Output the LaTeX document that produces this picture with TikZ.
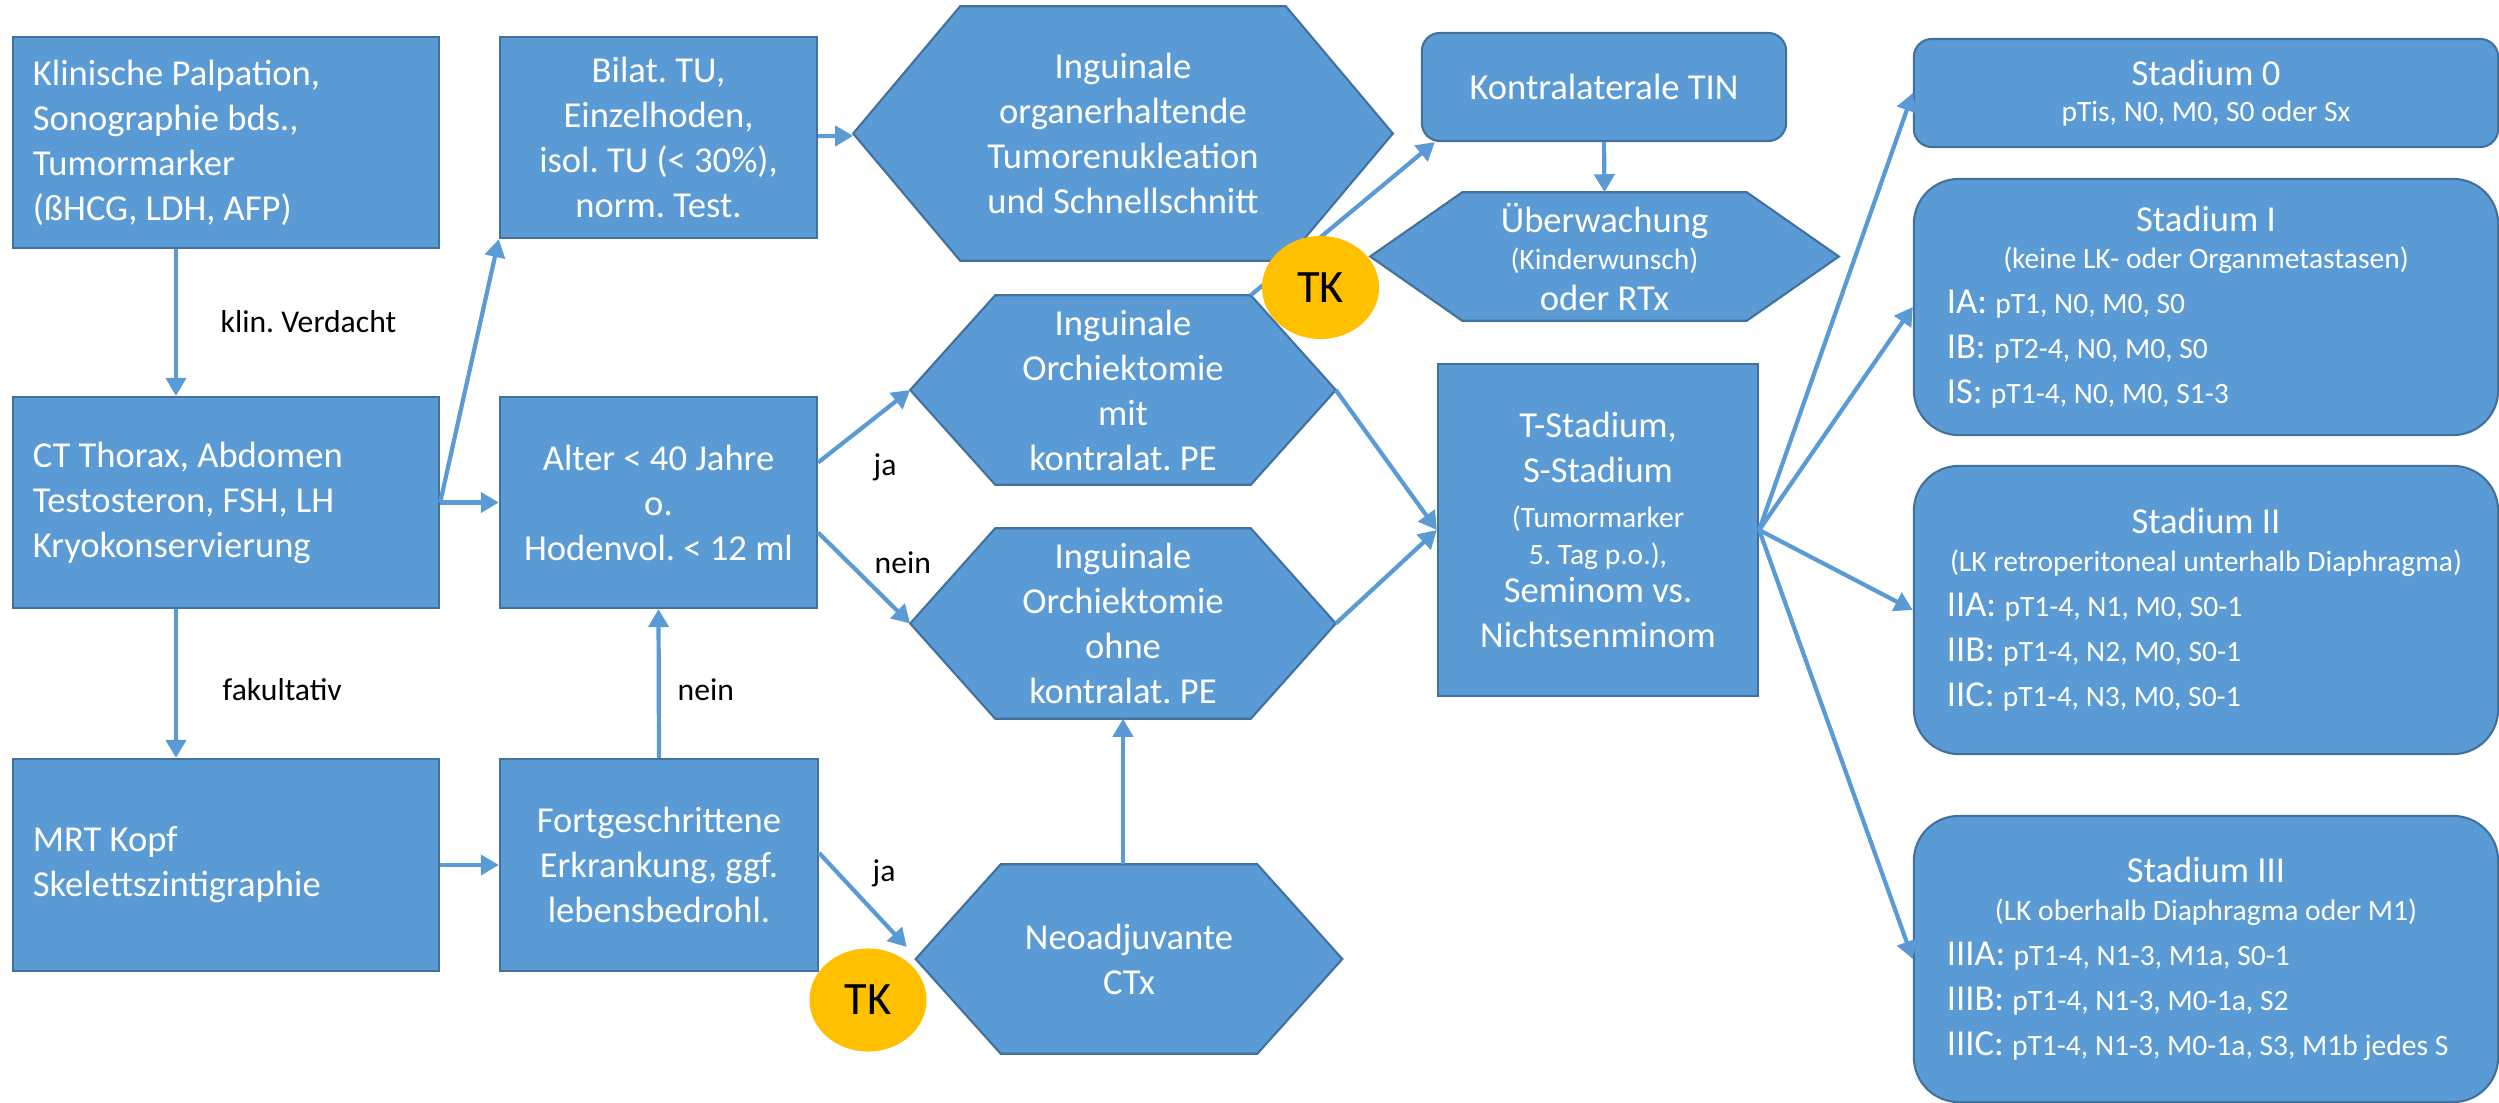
\documentclass[tikz,border=0pt]{standalone}
\usepackage{fontspec}
\setmainfont{Carlito}
\usetikzlibrary{arrows.meta,shapes.geometric,backgrounds}
\definecolor{boxFill}{HTML}{5B9BD5}
\definecolor{boxLine}{HTML}{41719C}
\definecolor{tkGold}{HTML}{FFC000}
\frenchspacing
\newcommand{\bigText}{\fontsize{10.4}{12.8}\selectfont}
\newcommand{\smallText}{\fontsize{8.4}{10}\selectfont}
\newcommand{\labelText}{\fontsize{9}{11}\selectfont}
\newcommand{\hexNode}[7]{%
  \node[hexText, minimum width=#4, minimum height=#5] (#1) at (#2,#3) {#7};
  \begin{pgfonlayer}{background}
    \draw[draw=boxLine, fill=boxFill, line width=0.6pt]
      (#1.west) -- ([xshift=#6]#1.north west) -- ([xshift=-#6]#1.north east)
      -- (#1.east) -- ([xshift=-#6]#1.south east) -- ([xshift=#6]#1.south west) -- cycle;
  \end{pgfonlayer}}

\tikzset{
  plainSpace/.style={execute at begin node={\frenchspacing\spaceskip=0pt\xspaceskip=0pt}},
  procBox/.style={rectangle, draw=boxLine, fill=boxFill, line width=0.6pt,
    text=white, font=\bigText, inner sep=0pt, plainSpace},
  leftBox/.style={procBox, text width=3.86cm, align=left, inner xsep=0.2cm,
    minimum width=4.26cm},
  midBox/.style={procBox, align=center, minimum width=3.17cm},
  hexText/.style={rectangle, text=white, font=\bigText, align=center, inner sep=0pt,
    plainSpace},
  stageBox/.style={procBox, rounded corners=0.45cm, text width=5.18cm, align=left,
    inner xsep=0.33cm, minimum width=5.84cm},
  tkMark/.style={ellipse, fill=tkGold, minimum width=1.17cm, minimum height=1.03cm,
    inner sep=0pt, font=\fontsize{13.2}{15}\selectfont},
  edgeLabel/.style={anchor=west, inner sep=0pt, font=\labelText, plainSpace},
  flowArrow/.style={draw=boxFill, line width=1.2pt,
    -{Triangle[length=0.18cm,width=0.2cm]}}
}

\begin{document}
\begin{tikzpicture}[x=0.01cm, y=-0.01cm]
\useasboundingbox (0,0) rectangle (2499,1103);

\node[leftBox, minimum height=2.11cm] (palp) at (226,142.5)
  {Klinische Palpation,\\ Sonographie bds.,\\ Tumormarker\\ (ßHCG, LDH, AFP)};
\node[leftBox, minimum height=2.11cm] (ct) at (226,502.5)
  {CT Thorax, Abdomen\\ Testosteron, FSH, LH\\ Kryokonservierung};
\node[leftBox, minimum height=2.12cm] (mrt) at (226,865)
  {MRT Kopf\\ Skelettszintigraphie};

\node[midBox, minimum height=2.01cm] (bilat) at (658.5,137.5)
  {Bilat. TU,\\ Einzelhoden,\\ isol. TU (< 30\%),\\ norm. Test.};
\node[midBox, minimum height=2.11cm] (alter) at (658.5,502.5)
  {Alter < 40 Jahre\\ o.\\ Hodenvol. < 12 ml};
\node[midBox, minimum width=3.18cm, minimum height=2.12cm] (fort) at (659,865)
  {Fortgeschrittene\\ Erkrankung, ggf.\\ lebensbedrohl.};

\hexNode{organ}{1123}{133.5}{5.38cm}{2.53cm}{1.07cm}
  {Inguinale\\ organerhaltende\\ Tumorenukleation\\ und Schnellschnitt}
\hexNode{mit}{1123}{390}{4.24cm}{1.88cm}{0.85cm}
  {Inguinale\\ Orchiektomie\\ mit\\ kontralat. PE}
\hexNode{ohne}{1123}{623.5}{4.24cm}{1.89cm}{0.85cm}
  {Inguinale\\ Orchiektomie\\ ohne\\ kontralat. PE}
\hexNode{neo}{1129}{959}{4.25cm}{1.88cm}{0.85cm}
  {Neoadjuvante\\ CTx}
\hexNode{ueber}{1604.5}{256.5}{4.67cm}{1.27cm}{0.92cm}
  {Überwachung\\[-0.08cm] {\smallText (Kinderwunsch)}\\[-0.04cm] oder RTx}

\node[procBox, rounded corners=0.18cm, minimum width=3.64cm, minimum height=1.08cm]
  (tin) at (1604,87) {Kontralaterale TIN};
\node[midBox, minimum width=3.2cm, minimum height=3.32cm] (tstad) at (1598,530)
  {T-Stadium,\\ S-Stadium\\ {\smallText (Tumormarker}\\[-0.08cm]
   {\smallText 5. Tag p.o.),}\\[-0.07cm] Seminom vs.\\ Nichtsenminom};

\node[stageBox, rounded corners=0.18cm, minimum height=1.08cm] (st0) at (2206,93)
  {{\centering Stadium 0\\[-0.09cm] {\smallText pTis, N0, M0, S0 oder Sx}\par}};
\node[stageBox, minimum height=2.56cm] (st1) at (2206,307)
  {{\centering Stadium I\\[-0.08cm] {\smallText (keine LK- oder Organmetastasen)}\par}
   IA: {\smallText pT1, N0, M0, S0}\\
   IB: {\smallText pT2-4, N0, M0, S0}\\
   IS: {\smallText pT1-4, N0, M0, S1-3}};
\node[stageBox, minimum height=2.88cm] (st2) at (2206,610)
  {{\centering Stadium II\\[-0.07cm] {\smallText (LK retroperitoneal unterhalb Diaphragma)}\par}
   IIA: {\smallText pT1-4, N1, M0, S0-1}\\
   IIB: {\smallText pT1-4, N2, M0, S0-1}\\
   IIC: {\smallText pT1-4, N3, M0, S0-1}};
\node[stageBox, minimum height=2.86cm] (st3) at (2206,959)
  {{\centering Stadium III\\[-0.07cm] {\smallText (LK oberhalb Diaphragma oder M1)}\par}
   IIIA: {\smallText pT1-4, N1-3, M1a, S0-1}\\
   IIIB: {\smallText pT1-4, N1-3, M0-1a, S2}\\
   IIIC: {\smallText pT1-4, N1-3, M0-1a, S3, M1b jedes S}};

\node[edgeLabel] (klin) at (220,322) {klin. Verdacht};
\node[edgeLabel] (fak) at (222,690) {fakultativ};
\node[edgeLabel] (neinA) at (677,690) {nein};
\node[edgeLabel] (jaA) at (873,467) {ja};
\node[edgeLabel] (neinB) at (874,563) {nein};
\node[edgeLabel] (jaB) at (872,873) {ja};

\draw[flowArrow] ([xshift=-0.5cm]palp.south) -- ([xshift=-0.5cm]ct.north);
\draw[flowArrow] ([xshift=-0.5cm]ct.south) -- ([xshift=-0.5cm]mrt.north);
\draw[flowArrow] (ct.east) -- (alter.west);
\draw[flowArrow] (ct.east) -- (bilat.south west);
\draw[flowArrow] (bilat) -- (organ);
\draw[flowArrow] (mrt.east) -- (fort.west);
\draw[flowArrow] (fort.north) -- (alter.south);
\draw[flowArrow] ([yshift=0.4cm]alter.east) -- (mit.west);
\draw[flowArrow] ([yshift=-0.3cm]alter.east) -- (ohne.west);
\draw[flowArrow] ([yshift=0.12cm]fort.east) -- ([xshift=-0.09cm,yshift=0.12cm]neo.west);
\draw[flowArrow] (ohne.south |- neo.north) -- (ohne.south);
\draw[flowArrow] (mit.east) -- (tstad.west);
\draw[flowArrow] (ohne.east) -- (tstad.west);
\draw[flowArrow] ([xshift=-0.85cm]mit.north east) -- ([xshift=0.14cm]tin.south west);
\draw[flowArrow] (tin.south) -- (ueber.north);
\foreach \st in {st0,st1,st2,st3}
  \draw[flowArrow] (tstad.east) -- (\st.west);

\node[tkMark] (tkTop) at (1320.5,287.5) {TK};
\node[tkMark] (tkLow) at (868,1000) {TK};
\end{tikzpicture}
\end{document}
